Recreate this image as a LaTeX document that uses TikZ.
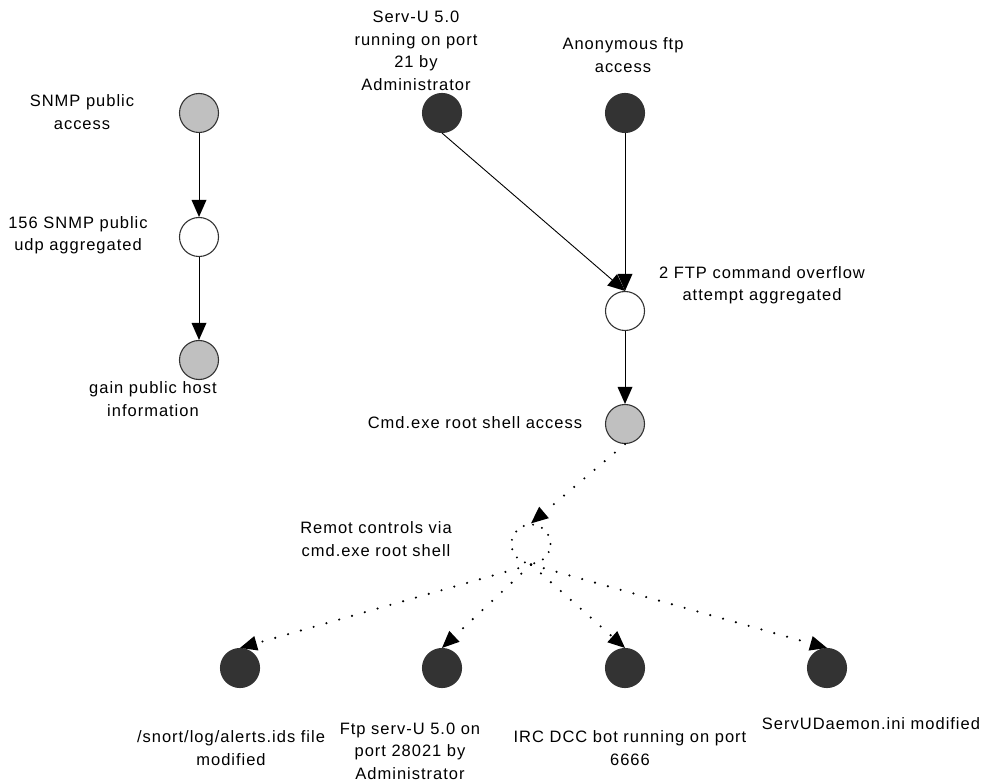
\documentclass[tikz,border=0pt]{standalone}
\usepackage{fontspec}
\setmainfont{Liberation Sans}[LetterSpace=6]
\usetikzlibrary{arrows.meta}
\definecolor{darkfill}{HTML}{333333}
\definecolor{lightfill}{HTML}{C0C0C0}
\definecolor{rimcolor}{HTML}{333333}
\begin{document}
\begin{tikzpicture}[x=1pt,y=-1pt,
  state/.style={circle,draw=rimcolor,line width=1.1pt,minimum size=39pt,inner sep=0pt},
  dark/.style={state,fill=darkfill},
  light/.style={state,fill=lightfill},
  plain/.style={state,fill=white},
  hidden/.style={circle,minimum size=39pt,inner sep=0pt,draw=black,line width=2.2pt,
    dash pattern=on 0pt off 9.5pt,line cap=round},
  lbl/.style={align=center,font=\fontsize{16.5}{22.5}\selectfont,inner sep=0pt},
  tip/.style={-{Triangle[length=17pt,width=15pt,line width=0pt]}},
  solidedge/.style={tip,draw=black,line width=0.9pt},
  dotedge/.style={tip,draw=black,line width=2.4pt,dash pattern=on 0pt off 13.3pt,line cap=round}]
\useasboundingbox (0,0) rectangle (985,783);

% left chain
\node[light] (snmp) at (199,113) {};
\node[plain] (snmpudp) at (199,237) {};
\node[light] (gain) at (199,360) {};

% ftp chain
\node[dark] (servu) at (442,113) {};
\node[dark] (anon) at (625,113) {};
\node[plain] (ftpov) at (625,311) {};
\node[light] (cmd) at (625,424) {};
\node[hidden] (remot) at (531,544) {};

% consequences
\node[dark] (alerts) at (240,668) {};
\node[dark] (ftpsrv) at (442,668) {};
\node[dark] (irc) at (625,668) {};
\node[dark] (daemon) at (827,668) {};

% labels
\node[lbl] (lsnmp) at (82,112) {SNMP public\\access};
\node[lbl] (lsnmpudp) at (78,235) {156 SNMP public\\udp aggregated};
\node[lbl] (lgain) at (153,399) {gain public host\\information};
\node[lbl] (lservu) at (416,51) {Serv-U 5.0\\running on port\\21 by\\Administrator};
\node[lbl] (lanon) at (623,55) {Anonymous ftp\\access};
\node[lbl] (lftpov) at (762,285) {2 FTP command overflow\\attempt aggregated};
\node[lbl] (lcmd) at (475,423) {Cmd.exe root shell access};
\node[lbl] (lremot) at (376,539) {Remot controls via\\cmd.exe root shell};
\node[lbl] (lalerts) at (231,748) {/snort/log/alerts.ids file\\modified};
\node[lbl] (lftpsrv) at (410,751) {Ftp serv-U 5.0 on\\port 28021 by\\Administrator};
\node[lbl] (lirc) at (630,748) {IRC DCC bot running on port\\6666};
\node[lbl] (ldaemon) at (871,724) {ServUDaemon.ini modified};

% solid edges
\draw[solidedge] (snmp.south) -- (snmpudp.north);
\draw[solidedge] (snmpudp.south) -- (gain.north);
\draw[solidedge] (servu.south) -- (ftpov.north);
\draw[solidedge] (anon.south) -- (ftpov.north);
\draw[solidedge] (ftpov.south) -- (cmd.north);

% dotted edges
\draw[dotedge] (cmd.south) -- (remot.north);
\draw[dotedge] (remot.south) -- (alerts.north);
\draw[dotedge] (remot.south) -- (ftpsrv.north);
\draw[dotedge] (remot.south) -- (irc.north);
\draw[dotedge] (remot.south) -- (daemon.north);
\end{tikzpicture}
\end{document}
